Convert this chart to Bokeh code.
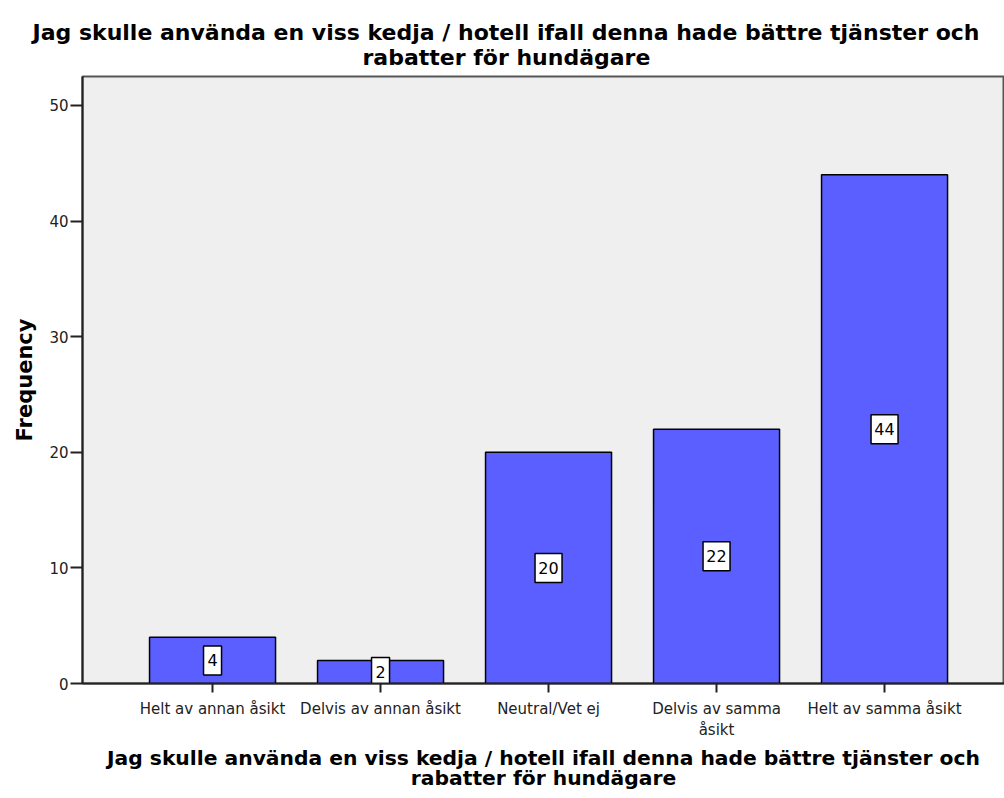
from bokeh.plotting import figure
from bokeh.models import Range1d, FixedTicker, Title, ColumnDataSource
from bokeh.embed import file_html
from bokeh.resources import INLINE
from bokeh.core.properties import value

categories = ["Helt av annan åsikt", "Delvis av annan åsikt", "Neutral/Vet ej",
              "Delvis av samma\nåsikt", "Helt av samma åsikt"]
counts = [4, 2, 20, 22, 44]
y_ticks = [0, 10, 20, 30, 40, 50]
title_lines = ["Jag skulle använda en viss kedja / hotell ifall denna hade bättre tjänster och",
               "rabatter för hundägare"]
y_label = "Frequency"

FONT = "DejaVu Sans"

xs = list(range(len(categories)))
src = ColumnDataSource(dict(
    x=xs, top=counts,
    mid=[c / 2 for c in counts],
    lab=[str(c) for c in counts],
    bw=[9 + 9 * len(str(c)) for c in counts],
))

p = figure(frame_width=922, frame_height=607,
           min_border_left=82, min_border_right=0, min_border_top=76, min_border_bottom=108,
           x_range=Range1d(-0.774, 4.714), y_range=Range1d(0, 52.5),
           output_backend="svg", toolbar_location=None)
p.title.visible = False

p.background_fill_color = "#efefef"
p.border_fill_color = "white"
p.outline_line_color = "#555555"
p.outline_line_width = 2
p.xgrid.visible = False
p.ygrid.visible = False

p.vbar(x="x", top="top", bottom=0, width=0.75, source=src,
       fill_color="#5b5fff", line_color="black", line_width=1.5)

p.rect(x="x", y="mid", width="bw", height=29, width_units="screen", height_units="screen",
       source=src, fill_color="white", line_color="black", line_width=1.5)
p.text(x="x", y="mid", text="lab", source=src, text_align="center", text_baseline="middle",
       text_font=value(FONT), text_font_size="16px", text_color="black")

# y axis
ya = p.yaxis[0]
ya.ticker = FixedTicker(ticks=y_ticks)
ya.major_tick_out = 12
ya.major_tick_in = 0
ya.minor_tick_out = 0
ya.minor_tick_in = 0
ya.axis_line_color = "#222222"
ya.axis_line_width = 2
ya.major_tick_line_color = "#222222"
ya.major_tick_line_width = 2
ya.major_label_standoff = 2
ya.major_label_text_font = FONT
ya.major_label_text_font_size = "15px"
ya.major_label_text_color = "#222222"
ya.axis_label = y_label
ya.axis_label_text_font = FONT
ya.axis_label_text_font_size = "21px"
ya.axis_label_text_font_style = "bold"
ya.axis_label_text_color = "black"
ya.axis_label_standoff = 9

# x axis
xa = p.xaxis[0]
xa.ticker = FixedTicker(ticks=xs)
xa.major_label_overrides = {i: c for i, c in zip(xs, categories)}
xa.major_tick_out = 9
xa.major_tick_in = 0
xa.minor_tick_out = 0
xa.minor_tick_in = 0
xa.axis_line_color = "#222222"
xa.axis_line_width = 2
xa.major_tick_line_color = "#222222"
xa.major_tick_line_width = 2
xa.major_label_standoff = 7
xa.major_label_text_font = FONT
xa.major_label_text_font_size = "15px"
xa.major_label_text_color = "#222222"


def safe_standoff(t, s, fallback=0):
    try:
        t.standoff = s
    except Exception:
        t.standoff = fallback


# top title (two lines); later additions go further from the frame
t2 = Title(text=title_lines[1], align="left", offset=280, standoff=12.4,
           text_font=FONT, text_font_size="22px", text_font_style="bold",
           text_color="black")
t1 = Title(text=title_lines[0], align="left", offset=-50, standoff=0,
           text_font=FONT, text_font_size="22px", text_font_style="bold",
           text_color="black")
safe_standoff(t1, -15.6)
p.add_layout(t2, "above")
p.add_layout(t1, "above")

# bottom axis title (two centred lines); later additions go further from the frame
b1 = Title(text=title_lines[0], align="center", standoff=2.8,
           text_font=FONT, text_font_size="20.3px", text_font_style="bold",
           text_color="black")
b2 = Title(text=title_lines[1], align="center", standoff=0,
           text_font=FONT, text_font_size="20.3px", text_font_style="bold",
           text_color="black")
safe_standoff(b2, -16)
p.add_layout(b1, "below")
p.add_layout(b2, "below")

open("out.html", "w").write(file_html(p, INLINE))
